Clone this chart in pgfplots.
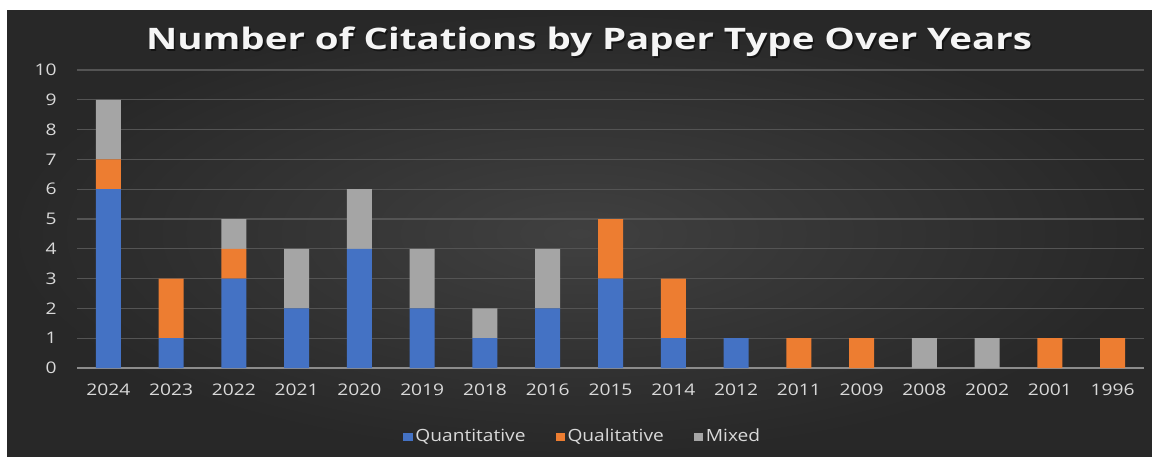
\documentclass[border=0pt]{standalone}
\usepackage{fontspec}
\setmainfont{Open Sans}
\newfontfamily\titlefont[FakeStretch=1.3]{Open Sans}
\newfontfamily\labelfont[FakeStretch=1.2]{Open Sans}
\newfontfamily\legendfont[FakeStretch=1.14]{Open Sans}
\usepackage{pgfplots}
\pgfplotsset{compat=1.18}

\definecolor{qblue}{HTML}{4472C4}
\definecolor{qorange}{HTML}{ED7D31}
\definecolor{qgray}{HTML}{A5A5A5}
\definecolor{bgin}{HTML}{404040}
\definecolor{bgout}{HTML}{282828}
\definecolor{txt}{HTML}{D9D9D9}
\definecolor{gridc}{HTML}{545454}
\definecolor{axisc}{HTML}{8C8C8C}

\begin{document}
\begin{tikzpicture}
% page and dark chart panel
\fill[white] (0pt,0pt) rectangle (576pt,228pt);
\shade[inner color=bgin, outer color=bgout] (3.5pt,0pt) rectangle (576pt,222.5pt);
% title with a soft shadow
\node[font=\titlefont\bfseries\fontsize{14.8}{18}\selectfont, text=black, opacity=0.5] at (295.3pt,206.2pt) {Number of Citations by Paper Type Over Years};
\node[font=\titlefont\bfseries\fontsize{14.8}{18}\selectfont, text=white!92!gray] at (294.5pt,207pt) {Number of Citations by Paper Type Over Years};
\begin{axis}[
  at={(38.5pt,44pt)}, anchor=south west,
  scale only axis, width=533.5pt, height=149pt,
  ybar stacked, bar width=12.5pt,
  xmin=-0.5, xmax=16.5, ymin=0, ymax=10,
  xtick={0,...,16},
  xticklabels={2024,2023,2022,2021,2020,2019,2018,2016,2015,2014,2012,2011,2009,2008,2002,2001,1996},
  ytick={0,...,10},
  axis x line=bottom, axis y line=left,
  x axis line style={-, draw=axisc, line width=0.8pt},
  y axis line style={draw=none},
  tick style={draw=none},
  ymajorgrids, grid style={draw=gridc, line width=0.6pt},
  /pgf/number format/assume math mode=true,
  ticklabel style={text=txt, font=\labelfont\fontsize{8}{10}\selectfont},
  y tick label style={xshift=-4.5pt},
  x tick label style={yshift=-2.5pt},
  legend columns=3,
  legend style={at={(0.475,-0.2315)}, anchor=center, draw=none, fill=none,
    text=txt, font=\legendfont\fontsize{8.4}{10}\selectfont,
    /tikz/every even column/.append style={column sep=13pt},
    /tikz/every odd column/.append style={column sep=-0.6pt}},
  legend image code/.code={\fill[#1] (0pt,-2pt) rectangle (4.6pt,2pt);},
]
\addplot[fill=qblue, draw=none] coordinates {
  (0,6) (1,1) (2,3) (3,2) (4,4) (5,2) (6,1) (7,2) (8,3) (9,1)
  (10,1) (11,0) (12,0) (13,0) (14,0) (15,0) (16,0)};
\addplot[fill=qorange, draw=none] coordinates {
  (0,1) (1,2) (2,1) (3,0) (4,0) (5,0) (6,0) (7,0) (8,2) (9,2)
  (10,0) (11,1) (12,1) (13,0) (14,0) (15,1) (16,1)};
\addplot[fill=qgray, draw=none] coordinates {
  (0,2) (1,0) (2,1) (3,2) (4,2) (5,2) (6,1) (7,2) (8,0) (9,0)
  (10,0) (11,0) (12,0) (13,1) (14,1) (15,0) (16,0)};
\legend{Quantitative, Qualitative, Mixed}
\end{axis}
\end{tikzpicture}
\end{document}
